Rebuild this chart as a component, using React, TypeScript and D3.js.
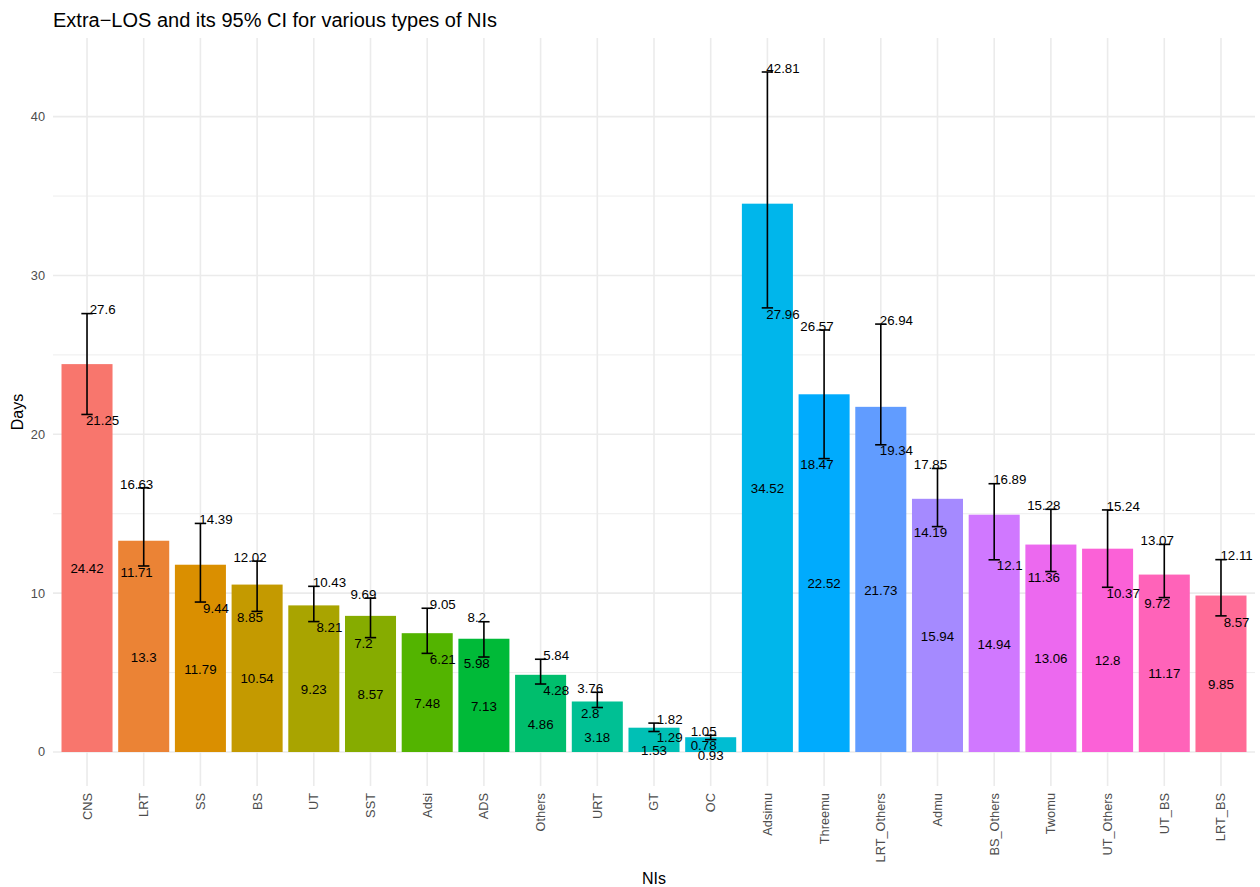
import { useEffect, useRef } from 'react';
import * as d3 from 'd3';

const categories = [
  'CNS', 'LRT', 'SS', 'BS', 'UT', 'SST', 'Adsi', 'ADS', 'Others', 'URT', 'GT', 'OC',
  'Adsimu', 'Threemu', 'LRT_Others', 'Admu', 'BS_Others', 'Twomu', 'UT_Others', 'UT_BS', 'LRT_BS',
];
const means = [24.42, 13.3, 11.79, 10.54, 9.23, 8.57, 7.48, 7.13, 4.86, 3.18, 1.53, 0.93, 34.52, 22.52, 21.73, 15.94, 14.94, 13.06, 12.8, 11.17, 9.85];
const lowers = [21.25, 11.71, 9.44, 8.85, 8.21, 7.2, 6.21, 5.98, 4.28, 2.8, 1.29, 0.78, 27.96, 18.47, 19.34, 14.19, 12.1, 11.36, 10.37, 9.72, 8.57];
const uppers = [27.6, 16.63, 14.39, 12.02, 10.43, 9.69, 9.05, 8.2, 5.84, 3.76, 1.82, 1.05, 42.81, 26.57, 26.94, 17.85, 16.89, 15.28, 15.24, 13.07, 12.11];
const yTicks = [0, 10, 20, 30, 40];
const yMinor = [5, 15, 25, 35];

const FONT = '"Liberation Sans", Arial, Helvetica, sans-serif';

// R's hcl() (polar CIE-Luv) -> hex, like ggplot's hue palette
function hclLuv(h: number, c: number, l: number) {
  const hr = (h * Math.PI) / 180;
  const U = c * Math.cos(hr);
  const V = c * Math.sin(hr);
  const Xn = 95.047, Yn = 100, Zn = 108.883;
  const Y = Yn * (l > 8 ? Math.pow((l + 16) / 116, 3) : l / 903.3);
  const den = Xn + 15 * Yn + 3 * Zn;
  const up = U / (13 * l) + (4 * Xn) / den;
  const vp = V / (13 * l) + (9 * Yn) / den;
  const X = (9 * Y * up) / (4 * vp);
  const Z = -X / 3 - 5 * Y + (3 * Y) / vp;
  const x = X / 100, y = Y / 100, z = Z / 100;
  const lin = [
    3.240479 * x - 1.53715 * y - 0.498535 * z,
    -0.969256 * x + 1.875992 * y + 0.041556 * z,
    0.055648 * x - 0.204043 * y + 1.057311 * z,
  ];
  const [r, g, b] = lin.map((v) => {
    const s = v <= 0.0031308 ? 12.92 * v : 1.055 * Math.pow(v, 1 / 2.4) - 0.055;
    return Math.round(Math.max(0, Math.min(1, s)) * 255);
  });
  return d3.rgb(r, g, b).formatHex();
}

function Chart() {
  const svgRef = useRef<SVGSVGElement>(null);

  useEffect(() => {
    if (!svgRef.current) return;
    const svg = d3.select(svgRef.current);
    svg.selectAll('*').remove();

    const width = 1260;
    const height = 887;
    const margin = { top: 38, right: 5, bottom: 101, left: 53 };

    const n = categories.length;
    const colors = categories.map((_, i) => hclLuv(15 + (360 / n) * i, 100, 65));

    const x = d3
      .scaleBand()
      .domain(categories)
      .range([margin.left, width - margin.right])
      .paddingInner(0.1)
      .paddingOuter(0.15);
    const step = x.step();
    const cx = (c: string) => (x(c) as number) + x.bandwidth() / 2;

    const yMax = d3.max(uppers) as number;
    const pad = yMax * 0.05;
    const y = d3
      .scaleLinear()
      .domain([-pad, yMax + pad])
      .range([height - margin.bottom, margin.top]);

    const g = svg.append('g');

    // grid
    g.selectAll('.minor')
      .data(yMinor)
      .join('line')
      .attr('x1', margin.left)
      .attr('x2', width - margin.right)
      .attr('y1', (d) => y(d))
      .attr('y2', (d) => y(d))
      .attr('stroke', '#EBEBEB')
      .attr('stroke-width', 0.9);
    g.selectAll('.major')
      .data(yTicks)
      .join('line')
      .attr('x1', margin.left)
      .attr('x2', width - margin.right)
      .attr('y1', (d) => y(d))
      .attr('y2', (d) => y(d))
      .attr('stroke', '#EBEBEB')
      .attr('stroke-width', 1.6);
    g.selectAll('.vgrid')
      .data(categories)
      .join('line')
      .attr('x1', (d) => cx(d))
      .attr('x2', (d) => cx(d))
      .attr('y1', margin.top)
      .attr('y2', height - margin.bottom)
      .attr('stroke', '#EBEBEB')
      .attr('stroke-width', 1.6);

    // bars
    g.selectAll('.bar')
      .data(categories)
      .join('rect')
      .attr('x', (d) => x(d) as number)
      .attr('width', x.bandwidth())
      .attr('y', (_, i) => y(means[i]))
      .attr('height', (_, i) => y(0) - y(means[i]))
      .attr('fill', (_, i) => colors[i]);

    // error bars
    const capW = step * 0.2;
    categories.forEach((c, i) => {
      const xc = cx(c);
      const eb = g.append('g').attr('stroke', '#000').attr('stroke-width', 1.6);
      eb.append('line').attr('x1', xc).attr('x2', xc).attr('y1', y(lowers[i])).attr('y2', y(uppers[i]));
      eb.append('line').attr('x1', xc - capW / 2).attr('x2', xc + capW / 2).attr('y1', y(lowers[i])).attr('y2', y(lowers[i]));
      eb.append('line').attr('x1', xc - capW / 2).attr('x2', xc + capW / 2).attr('y1', y(uppers[i])).attr('y2', y(uppers[i]));
    });

    // value labels
    const labelSize = 13.3;
    const nudge = (i: number) => (i % 2 === 0 ? 0.275 : -0.125) * step;
    const label = (tx: number, ty: number, t: string) =>
      g.append('text')
        .attr('x', tx)
        .attr('y', ty)
        .attr('dy', '0.35em')
        .attr('text-anchor', 'middle')
        .attr('font-family', FONT)
        .attr('font-size', labelSize)
        .attr('fill', '#000')
        .text(t);
    categories.forEach((c, i) => {
      label(cx(c), y(means[i] / 2) + 10.5, String(means[i]));
      label(cx(c) + nudge(i), y(uppers[i]) - 4, String(uppers[i]));
      label(cx(c) + nudge(i), y(lowers[i]) + 6, String(lowers[i]));
    });

    // y axis labels
    g.selectAll('.ytick')
      .data(yTicks)
      .join('text')
      .attr('x', margin.left - 8)
      .attr('y', (d) => y(d))
      .attr('dy', '0.35em')
      .attr('text-anchor', 'end')
      .attr('font-family', FONT)
      .attr('font-size', 12.8)
      .attr('fill', '#4D4D4D')
      .text((d) => d);

    // x axis labels
    g.selectAll('.xtick')
      .data(categories)
      .join('text')
      .attr('transform', (d) => `translate(${cx(d)},${height - margin.bottom + 7}) rotate(-90)`)
      .attr('dy', '0.35em')
      .attr('text-anchor', 'end')
      .attr('font-family', FONT)
      .attr('font-size', 12.8)
      .attr('fill', '#4D4D4D')
      .text((d) => d);

    // axis titles
    svg.append('text')
      .attr('transform', `translate(17,${(margin.top + height - margin.bottom) / 2}) rotate(-90)`)
      .attr('dy', '0.35em')
      .attr('text-anchor', 'middle')
      .attr('font-family', FONT)
      .attr('font-size', 16)
      .attr('fill', '#000')
      .text('Days');
    svg.append('text')
      .attr('x', (margin.left + width - margin.right) / 2)
      .attr('y', 878)
      .attr('dy', '0.35em')
      .attr('text-anchor', 'middle')
      .attr('font-family', FONT)
      .attr('font-size', 16)
      .attr('fill', '#000')
      .text('NIs');

    // title
    svg.append('text')
      .attr('x', margin.left)
      .attr('y', 27)
      .attr('font-family', FONT)
      .attr('font-size', 20)
      .attr('fill', '#000')
      .text('Extra\u2212LOS and its 95% CI for various types of NIs');
  }, []);

  return <svg ref={svgRef} width={1260} height={887} style={{ display: 'block', background: '#fff' }} />;
}

export default function App() {
  return (
    <div style={{ position: 'absolute', left: 0, top: 0 }}>
      <Chart />
    </div>
  );
}
